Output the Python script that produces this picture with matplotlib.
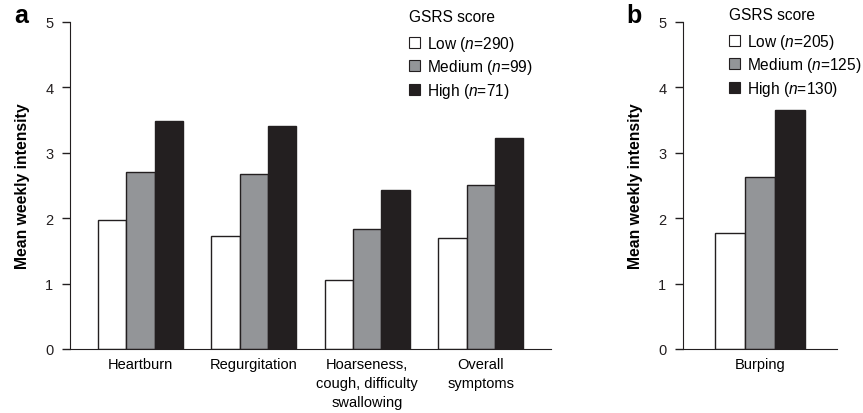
import matplotlib
matplotlib.use('Agg')
import matplotlib.pyplot as plt
import numpy as np
from matplotlib.patches import Patch

plt.rcParams['font.family'] = ['Liberation Sans', 'DejaVu Sans']
plt.rcParams['font.size'] = 10
plt.rcParams['mathtext.fontset'] = 'custom'
plt.rcParams['mathtext.it'] = 'Liberation Sans:italic'
plt.rcParams['mathtext.rm'] = 'Liberation Sans'

# panel a data
symptoms_a = ['Heartburn', 'Regurgitation', 'Hoarseness,\ncough, difficulty\nswallowing',
              'Overall\nsymptoms']
low_a = [1.97, 1.73, 1.06, 1.70]
medium_a = [2.71, 2.67, 1.83, 2.51]
high_a = [3.48, 3.41, 2.43, 3.22]
labels_a = ['Low ($n$=290)', 'Medium ($n$=99)', 'High ($n$=71)']

# panel b data
symptoms_b = ['Burping']
low_b = [1.78]
medium_b = [2.63]
high_b = [3.66]
labels_b = ['Low ($n$=205)', 'Medium ($n$=125)', 'High ($n$=130)']

colors = ['white', '#939598', '#231f20']
edge = '#231f20'

fig = plt.figure(figsize=(8.63, 4.14), dpi=100)
ax_a = fig.add_axes([0.0811, 0.1546, 0.5574, 0.7899])
ax_b = fig.add_axes([0.7914, 0.1546, 0.1785, 0.7899])


def style_axis(ax):
    ax.spines['top'].set_visible(False)
    ax.spines['right'].set_visible(False)
    ax.spines['left'].set_color('#231f20')
    ax.spines['bottom'].set_color('#231f20')
    ax.set_ylim(0, 5)
    ax.set_yticks(range(0, 6))
    ax.tick_params(axis='y', length=6, width=1, colors='#231f20', labelsize=10.5, pad=6)
    ax.tick_params(axis='x', length=0, labelsize=10.5, pad=6)
    ax.set_ylabel('Mean weekly intensity', fontweight='bold', fontsize=11.3, labelpad=11)


def draw_groups(ax, names, series, width):
    x = np.arange(len(names))
    offsets = [-width, 0, width]
    for vals, off, col in zip(series, offsets, colors):
        ax.bar(x + off, vals, width, color=col, edgecolor=edge, linewidth=1)
    ax.set_xticks(x)
    ax.set_xticklabels(names, linespacing=1.45)


def add_legend(ax, labels, x, y_title, y_entries):
    fig.text(x, y_title, 'GSRS score', fontsize=11.2, va='center', ha='left')
    handles = [Patch(facecolor=c, edgecolor=edge, linewidth=0.8) for c in colors]
    ax.legend(handles, labels, loc='upper left',
              bbox_to_anchor=(x, y_entries), bbox_transform=fig.transFigure,
              frameon=False, handlelength=0.7, handleheight=0.7,
              handletextpad=0.45, labelspacing=0.28, borderaxespad=0,
              borderpad=0, fontsize=11.2)


style_axis(ax_a)
draw_groups(ax_a, symptoms_a, [low_a, medium_a, high_a], 0.25)
ax_a.set_xlim(-0.62, 3.62)
add_legend(ax_a, labels_a, 409 / 863, 1 - 17 / 414, 1 - 35 / 414)

style_axis(ax_b)
draw_groups(ax_b, symptoms_b, [low_b, medium_b, high_b], 0.3)
ax_b.set_xlim(-0.77, 0.77)
add_legend(ax_b, labels_b, 729 / 863, 1 - 16 / 414, 1 - 33 / 414)

fig.text(14 / 863, 1 - 23 / 414, 'a', fontsize=18, fontweight='bold')
fig.text(626 / 863, 1 - 23 / 414, 'b', fontsize=18, fontweight='bold')

fig.savefig('out.png', dpi=100)
